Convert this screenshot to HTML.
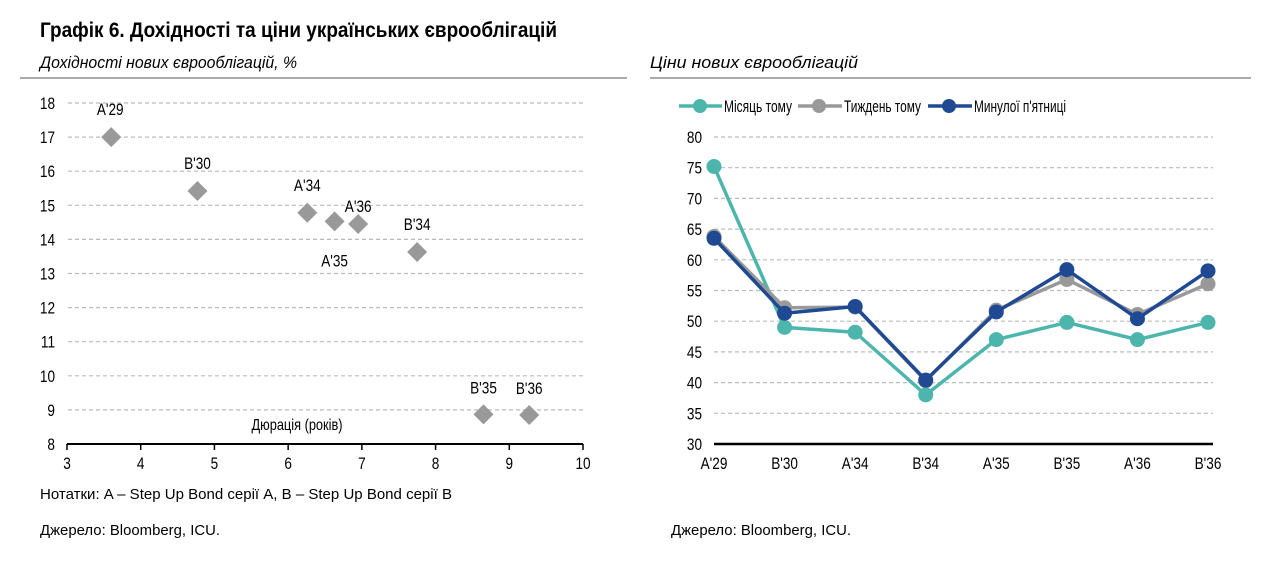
<!DOCTYPE html>
<html><head><meta charset="utf-8"><style>
html,body{margin:0;padding:0;background:#fff;}
svg{display:block;font-family:"Liberation Sans Narrow","Liberation Sans",sans-serif;}
</style></head><body>
<svg id="root" width="1280" height="563" viewBox="0 0 1280 563" xmlns="http://www.w3.org/2000/svg">
<text x="40" y="37" font-size="21" font-weight="bold" textLength="517" lengthAdjust="spacingAndGlyphs" fill="#000">Графік 6. Дохідності та ціни українських єврооблігацій</text>
<text x="40" y="68" font-size="17" font-style="italic" textLength="257" lengthAdjust="spacingAndGlyphs" fill="#000">Дохідності нових єврооблігацій, %</text>
<line x1="20" y1="78" x2="627" y2="78" stroke="#aaa" stroke-width="2"/>
<text x="650" y="68" font-size="17" font-style="italic" textLength="208" lengthAdjust="spacingAndGlyphs" fill="#000">Ціни нових єврооблігацій</text>
<line x1="650" y1="78" x2="1251" y2="78" stroke="#aaa" stroke-width="2"/>
<g id="left"></g>
<g id="right"></g>
<text x="40" y="499" font-size="15" textLength="412" lengthAdjust="spacingAndGlyphs" fill="#000">Нотатки: A – Step Up Bond серії A, B – Step Up Bond серії B</text>
<text x="40" y="535" font-size="15" textLength="180" lengthAdjust="spacingAndGlyphs" fill="#000">Джерело: Bloomberg, ICU.</text>
<text x="671" y="535" font-size="15" textLength="180" lengthAdjust="spacingAndGlyphs" fill="#000">Джерело: Bloomberg, ICU.</text>
</svg>
<script>
var NS="http://www.w3.org/2000/svg";
// Left chart data
var bondNames=["A'29","B'30","A'34","A'35","A'36","B'34","B'35","B'36"];
var durations=[3.6,4.77,6.26,6.63,6.95,7.75,8.65,9.27];
var yields=[17,15.42,14.78,14.53,14.45,13.63,8.87,8.85];
var xTicksL=[3,4,5,6,7,8,9,10];
var yTicksL=[8,9,10,11,12,13,14,15,16,17,18];
var labelPos=[[-1,-22],[0,-22],[0,-22],[0,45],[0,-12],[0,-22],[0,-21],[0,-21]];
// Right chart data
var cats=["A'29","B'30","A'34","B'34","A'35","B'35","A'36","B'36"];
var monthAgo=[75.2,49,48.2,38,47,49.8,47,49.8];
var weekAgo=[63.8,52.2,52.3,40.3,51.8,56.8,51.1,56.1];
var lastFriday=[63.5,51.3,52.4,40.4,51.5,58.4,50.4,58.2];
var yTicksR=[30,35,40,45,50,55,60,65,70,75,80];
var seriesNames=["Місяць тому","Тиждень тому","Минулої п'ятниці"];
var seriesColors=["#4db6ac","#999999","#1f4a93"];

function mk(tag,attrs,parent,text){var e=document.createElementNS(NS,tag);for(var k in attrs)e.setAttribute(k,attrs[k]);if(text!==undefined)e.textContent=text;parent.appendChild(e);return e;}
function ntext(x,y,str,anchor,parent,size){
  return mk('text',{x:0,y:0,transform:'translate('+x+','+y+') scale(0.8,1)','font-size':size||17,'text-anchor':anchor,fill:'#000'},parent,str);
}

// Left chart
var L=document.getElementById('left');
function xL(v){return 67+(v-3)*(583-67)/7;}
function yL(v){return 444-(v-8)*(444-103)/10;}
yTicksL.forEach(function(t){
  if(t>8){var g=mk('line',{x1:68,x2:583,y1:yL(t),y2:yL(t),stroke:'#bbb','stroke-width':1.2,'stroke-dasharray':'4,3'},L);
  
  }
  var tx=ntext(55,yL(t)+6,String(t),'end',L);
  
  
});
var ax=mk('line',{x1:67,x2:583,y1:444,y2:444,stroke:'#000','stroke-width':2},L);


xTicksL.forEach(function(t){
  var tk=mk('line',{x1:xL(t),x2:xL(t),y1:444,y2:450,stroke:'#000','stroke-width':1.5},L);
  
  
  var tx=ntext(xL(t),469,String(t),'middle',L);
  
  
});
var xt=ntext(297,430,'Дюрація (років)','middle',L,16);


durations.forEach(function(d,i){
  var cx=xL(d),cy=yL(yields[i]),r=10;
  var p=mk('polygon',{points:(cx)+','+(cy-r)+' '+(cx+r)+','+cy+' '+cx+','+(cy+r)+' '+(cx-r)+','+cy,fill:'#999'},L);
  
  
  var lb=ntext(cx+labelPos[i][0],cy+labelPos[i][1],bondNames[i],'middle',L);
  
  
});

// Right chart
var R=document.getElementById('right');
function xR(i){return 714+i*(1208-714)/7;}
function yR(v){return 444-(v-30)*(444-137)/50;}
yTicksR.forEach(function(t){
  if(t>30){var g=mk('line',{x1:714,x2:1213,y1:yR(t),y2:yR(t),stroke:'#bbb','stroke-width':1.2,'stroke-dasharray':'4,3'},R);
  
  }
  var tx=ntext(702,yR(t)+6,String(t),'end',R);
  
  
});
var ax2=mk('line',{x1:714,x2:1213,y1:444,y2:444,stroke:'#000','stroke-width':2.5},R);


cats.forEach(function(c,i){
  var tx=ntext(xR(i),469,c,'middle',R);
  
  
});
[monthAgo,weekAgo,lastFriday].forEach(function(s,si){
  var pts=s.map(function(v,i){return xR(i)+','+yR(v);}).join(' ');
  var pl=mk('polyline',{points:pts,fill:'none',stroke:seriesColors[si],'stroke-width':3.5,'stroke-linejoin':'round'},R);
  
  
  s.forEach(function(v,i){
    var c=mk('circle',{cx:xR(i),cy:yR(v),r:7.5,fill:seriesColors[si]},R);
    
    
  });
});
// legend
var legX=[679,798,928],legW=[43,44,44],legTextLen=[68,77,92];
seriesNames.forEach(function(n,i){
  var g=mk('g',{},R);
  
  
  mk('line',{x1:legX[i],x2:legX[i]+legW[i],y1:106,y2:106,stroke:seriesColors[i],'stroke-width':3.5},g);
  mk('circle',{cx:legX[i]+21,cy:106,r:7,fill:seriesColors[i]},g);
  mk('text',{x:legX[i]+legW[i]+2,y:112,'font-size':17,fill:'#000',textLength:legTextLen[i],lengthAdjust:'spacingAndGlyphs'},g,n);
});
</script>
</body></html>
